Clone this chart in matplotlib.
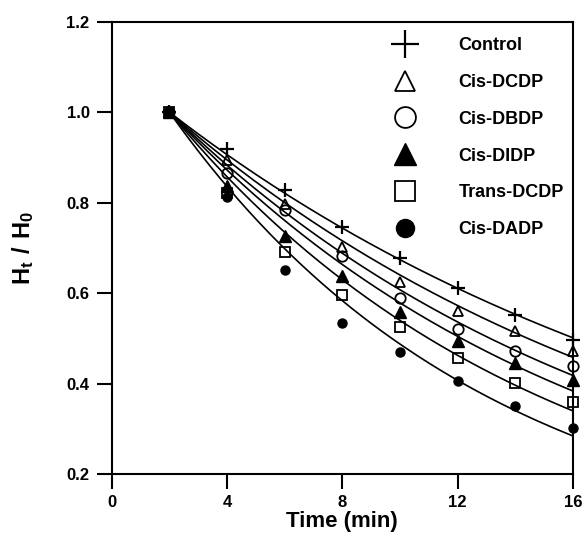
import numpy as np
import matplotlib
matplotlib.use("Agg")
import matplotlib.pyplot as plt

plt.rcParams['font.family'] = ['Liberation Sans', 'DejaVu Sans']
plt.rcParams['font.weight'] = 'bold'

time = [2, 4, 6, 8, 10, 12, 14, 16]
labels = ["Control", "Cis-DCDP", "Cis-DBDP", "Cis-DIDP", "Trans-DCDP", "Cis-DADP"]
control = [1.0, 0.919, 0.828, 0.746, 0.677, 0.611, 0.552, 0.497]
cis_dcdp = [1.0, 0.895, 0.797, 0.701, 0.625, 0.561, 0.516, 0.472]
cis_dbdp = [1.0, 0.866, 0.784, 0.682, 0.589, 0.520, 0.471, 0.438]
cis_didp = [1.0, 0.836, 0.726, 0.637, 0.558, 0.493, 0.445, 0.408]
trans_dcdp = [1.0, 0.821, 0.690, 0.596, 0.526, 0.456, 0.402, 0.360]
cis_dadp = [1.0, 0.812, 0.650, 0.534, 0.469, 0.406, 0.351, 0.301]
xticks = [0, 4, 8, 12, 16]
yticks = [0.2, 0.4, 0.6, 0.8, 1.0, 1.2]

series = [control, cis_dcdp, cis_dbdp, cis_didp, trans_dcdp, cis_dadp]
styles = [
    dict(marker='+', ms=10, mew=1.6, mfc='none', mec='black'),
    dict(marker='^', ms=7.5, mew=1.3, mfc='none', mec='black'),
    dict(marker='o', ms=7.5, mew=1.3, mfc='none', mec='black'),
    dict(marker='^', ms=8, mew=1.0, mfc='black', mec='black'),
    dict(marker='s', ms=7, mew=1.3, mfc='none', mec='black'),
    dict(marker='o', ms=6.5, mew=1.0, mfc='black', mec='black'),
]

fig = plt.figure(figsize=(5.85, 5.42), dpi=100)
ax = fig.add_axes([0.191, 0.1255, 0.7885, 0.8345])

t = np.array(time, dtype=float)
tt = np.linspace(2, 16, 200)
for ys, st, lab in zip(series, styles, labels):
    y = np.array(ys)
    dt = t - 2
    k = -np.sum(dt * np.log(y)) / np.sum(dt ** 2)
    ax.plot(tt, np.exp(-k * (tt - 2)), color='black', lw=1.2, zorder=2)
    ax.plot(t, y, linestyle='none', label=lab, zorder=3, clip_on=False, **st)

ax.set_xlim(0, 16)
ax.set_ylim(0.2, 1.2)
ax.set_xticks(xticks)
ax.set_yticks(yticks)
ax.set_yticklabels([f"{v:.1f}" for v in yticks])
ax.tick_params(direction='out', length=11, width=1.5, labelsize=12, pad=4,
               top=False, right=False)
ax.tick_params(axis='y', pad=5)
for sp in ax.spines.values():
    sp.set_linewidth(1.5)
for lbl in ax.get_xticklabels() + ax.get_yticklabels():
    lbl.set_fontweight('bold')

ax.set_xlabel("Time (min)", fontsize=16, fontweight='bold', labelpad=1)
ax.set_ylabel(r"$\mathregular{H_t\ /\ H_0}$", fontsize=17, fontweight='bold', labelpad=22)

leg = ax.legend(loc='upper left', bbox_to_anchor=(387 / 585, 1 - 37 / 542),
                bbox_transform=fig.transFigure, frameon=False, markerscale=2.0,
                prop={'weight': 'bold', 'size': 13},
                handlelength=2.0, handletextpad=1.95, labelspacing=1.1,
                borderpad=0, borderaxespad=0)

fig.savefig("out.png", dpi=100)
